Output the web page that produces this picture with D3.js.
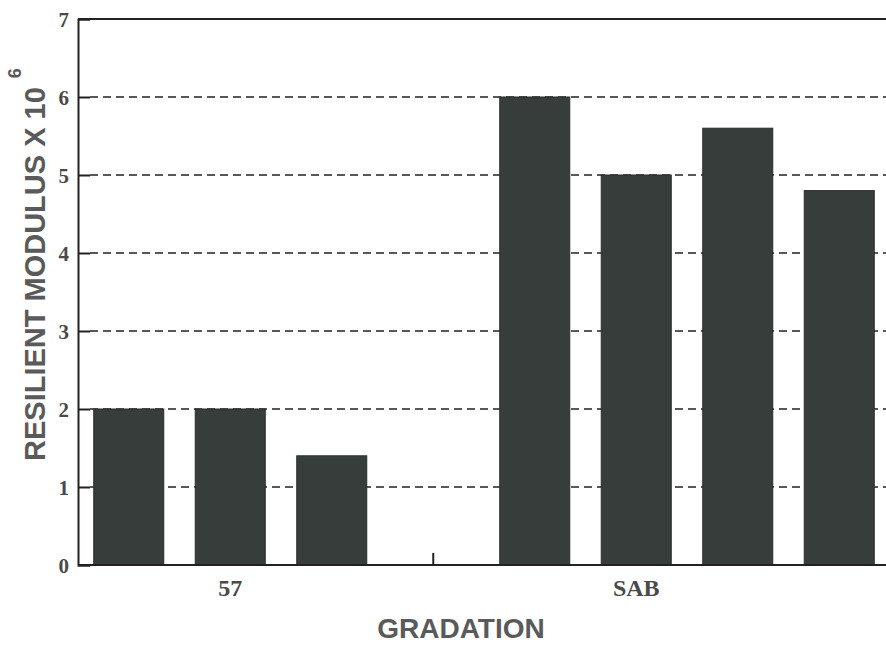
<!DOCTYPE html>
<html>
<head>
<meta charset="utf-8">
<script src="https://cdn.jsdelivr.net/npm/d3@7"></script>
<style>
html,body{margin:0;padding:0;background:#fff;}
svg{display:block;}
</style>
</head>
<body>
<svg id="chart" width="886" height="645"></svg>
<script>
// ---- data ----
const slots = ["57 a","57 b","57 c","gap","SAB a","SAB b","SAB c","SAB d"];
const values = [2.0, 2.0, 1.4, null, 6.0, 5.0, 5.6, 4.8];
const categories = ["57","SAB"];
const categorySlots = ["57 b","SAB b"];
const separatorSlots = ["gap"];
const yTicks = [0,1,2,3,4,5,6,7];
const yTitle = "RESILIENT MODULUS X 10";
const ySup = "6";
const xTitle = "GRADATION";

// ---- layout ----
const W = 886, H = 645;
const m = {left:78, top:19, right:-4, bottom:80};
const svg = d3.select("#chart");

const x = d3.scaleBand().domain(slots)
  .range([m.left, W - m.right]).paddingInner(0.31).paddingOuter(0.155);
const y = d3.scaleLinear().domain([0,7]).range([H - m.bottom, m.top]);

const g = svg.append("g");

// dashed gridlines
g.selectAll("line.grid").data(yTicks.filter(d => d > 0 && d < 7)).enter()
  .append("line").attr("class","grid")
  .attr("x1", m.left + 12).attr("x2", W)
  .attr("y1", d => y(d)).attr("y2", d => y(d))
  .attr("stroke","#222").attr("stroke-width",1.7)
  .attr("stroke-dasharray","8,5");

// top border
g.append("line").attr("x1", m.left).attr("x2", W)
  .attr("y1", y(7)).attr("y2", y(7))
  .attr("stroke","#222").attr("stroke-width",1.8);

// bars
const barData = slots.map((s,i) => ({slot:s, v:values[i]})).filter(d => d.v != null);
g.selectAll("rect.bar").data(barData).enter().append("rect")
  .attr("class","bar")
  .attr("x", d => x(d.slot))
  .attr("width", x.bandwidth())
  .attr("y", d => y(d.v))
  .attr("height", d => y(0) - y(d.v))
  .attr("fill","#363d3a")
  .attr("stroke","#2a2f2d").attr("stroke-width",1);

// y axis
const yAxis = d3.axisLeft(y).tickValues(yTicks).tickSize(-12).tickPadding(9).tickFormat(d3.format("d"));
const ya = g.append("g").attr("transform", `translate(${m.left},0)`).call(yAxis);
ya.select(".domain").attr("stroke","#222").attr("stroke-width",2);
ya.selectAll(".tick line").attr("stroke","#222").attr("stroke-width",2);
ya.selectAll(".tick text")
  .attr("font-family","'Liberation Serif', serif").attr("font-weight","bold")
  .attr("font-size",21).attr("fill","#4a4a4a").attr("dy","0.34em");

// x axis baseline
g.append("line").attr("x1", m.left).attr("x2", W)
  .attr("y1", y(0)).attr("y2", y(0))
  .attr("stroke","#222").attr("stroke-width",2);

// separator tick
g.selectAll("line.sep").data(separatorSlots).enter().append("line")
  .attr("x1", d => x(d) + x.bandwidth()/2).attr("x2", d => x(d) + x.bandwidth()/2)
  .attr("y1", y(0)).attr("y2", y(0) - 12)
  .attr("stroke","#222").attr("stroke-width",2);

// category labels
g.selectAll("text.cat").data(categories).enter().append("text")
  .attr("x", (d,i) => x(categorySlots[i]) + x.bandwidth()/2)
  .attr("y", y(0) + 31)
  .attr("text-anchor","middle")
  .attr("font-family","'Liberation Serif', serif").attr("font-weight","bold")
  .attr("font-size",24).attr("fill","#4a4a4a")
  .text(d => d);

// x title
svg.append("text").attr("x", 461).attr("y", 638)
  .attr("text-anchor","middle")
  .attr("font-family","'Liberation Sans', Arial, sans-serif").attr("font-weight","bold")
  .attr("font-size",28).attr("fill","#5a5a5a")
  .text(xTitle);

// y title
const yt = svg.append("text")
  .attr("transform","translate(45,461) rotate(-90)")
  .attr("font-family","'Liberation Sans', Arial, sans-serif").attr("font-weight","bold")
  .attr("font-size",29).attr("fill","#5a5a5a");
yt.append("tspan").text(yTitle);
yt.append("tspan").attr("dx",9).attr("dy",-24).attr("font-size",18).text(ySup);
</script>
</body>
</html>
